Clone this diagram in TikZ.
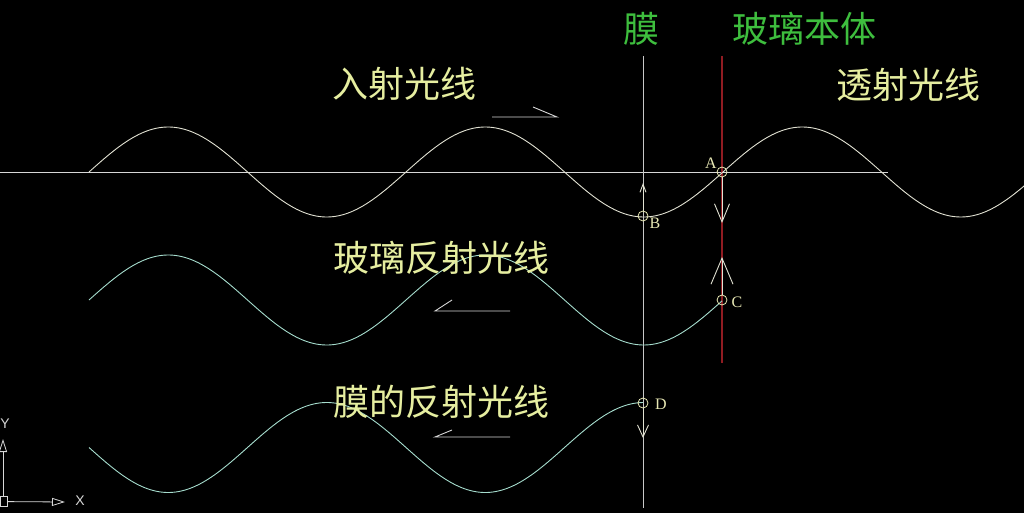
\documentclass[tikz,border=0pt]{standalone}
\usepackage{fontspec}
\setmainfont{Liberation Serif}
\setsansfont{Liberation Sans}
\newfontfamily\cjk{Noto Sans CJK SC}
\usetikzlibrary{arrows.meta}
\definecolor{bg}{RGB}{0,0,0}
\definecolor{wavew}{RGB}{225,225,210}
\definecolor{wavec}{RGB}{165,220,205}
\definecolor{axisg}{RGB}{215,215,215}
\definecolor{filmg}{RGB}{200,200,200}
\definecolor{glassred}{RGB}{145,28,34}
\definecolor{txty}{RGB}{230,238,160}
\definecolor{txtg}{RGB}{62,190,62}
\definecolor{ptcol}{RGB}{232,232,180}
\begin{document}
\begin{tikzpicture}[x=1pt,y=-1pt,line width=0.9pt,
  cjklabel/.style={text=txty,font=\cjk\fontsize{36}{40}\selectfont,inner sep=0pt},
  greenlabel/.style={text=txtg,font=\cjk\fontsize{36}{40}\selectfont,inner sep=0pt},
  ptmark/.style={circle,draw=ptcol,line width=0.8pt,minimum size=10pt,inner sep=0pt},
  ptname/.style={text=ptcol,font=\fontsize{16}{17}\selectfont,inner sep=0pt},
  harpoon/.style={draw=axisg,line width=0.9pt},
  vecarrow/.style={draw=wavew,line width=0.9pt}]
\fill[bg] (0,0) rectangle (1024,513);
\useasboundingbox (0,0) rectangle (1024,513);

% horizontal axis line
\coordinate (axL) at (0,172);
\coordinate (axR) at (888,172);
\draw[axisg] (axL) -- (axR);

% film line and glass line
\coordinate (filmT) at (643,56);
\coordinate (filmB) at (643,508);
\coordinate (glassT) at (722,56);
\coordinate (glassB) at (722,363);
\draw[glassred,line width=1.2pt] (glassT) -- (glassB);
\draw[filmg] (filmT) -- (filmB);

% waves
\draw[wavew] plot[domain=89:1030,samples=300,smooth] (\x,{172-45*sin((\x-89)/317*360)});
\draw[wavec] plot[domain=89:722,samples=220,smooth] (\x,{300-45*sin((\x-89)/317*360)});
\draw[wavec] plot[domain=89:643,samples=200,smooth] (\x,{447.5+45*sin((\x-89)/317*360)});

% points
\node[ptmark] (A) at (722,172) {};
\node[ptmark] (B) at (643,216) {};
\node[ptmark] (C) at (722,300) {};
\node[ptmark] (D) at (643,403) {};
\node[ptname] (An) at (711,163) {A};
\node[ptname] (Bn) at (655,223) {B};
\node[ptname] (Cn) at (737,302) {C};
\node[ptname] (Dn) at (661,404) {D};

% vertical arrows
\coordinate (Atip) at (722,223);
\coordinate (Btip) at (643,183);
\coordinate (Ctip) at (722,257);
\coordinate (Dtip) at (643,438);
\draw[vecarrow,-{Straight Barb[length=18pt,width=15pt,line width=0.9pt]}] (A) -- (Atip);
\draw[vecarrow,-{Straight Barb[length=8pt,width=6pt,line width=0.9pt]}] (B) -- (Btip);
\draw[vecarrow,-{Straight Barb[length=26pt,width=22pt,line width=0.9pt]}] (C) -- (Ctip);
\draw[vecarrow,-{Straight Barb[length=12pt,width=11pt,line width=0.9pt]}] (D) -- (Dtip);

% harpoon arrows
\coordinate (h1a) at (492,117);
\coordinate (h1b) at (557,117);
\coordinate (h1c) at (533,107);
\draw[harpoon] (h1a) -- (h1b) -- (h1c);
\coordinate (h2a) at (510,311);
\coordinate (h2b) at (435,311);
\coordinate (h2c) at (452,300);
\draw[harpoon] (h2a) -- (h2b) -- (h2c);
\coordinate (h3a) at (510,437);
\coordinate (h3b) at (435,437);
\coordinate (h3c) at (452,430);
\draw[harpoon] (h3a) -- (h3b) -- (h3c);

% labels
\node[cjklabel] (inc) at (404,84) {入射光线};
\node[cjklabel] (tra) at (908,85) {透射光线};
\node[cjklabel] (grf) at (441,258) {玻璃反射光线};
\node[cjklabel] (frf) at (441,402) {膜的反射光线};
\node[greenlabel] (mo) at (641,29) {膜};
\node[greenlabel] (gb) at (804,29) {玻璃本体};

% UCS icon
\node[draw=axisg,line width=0.8pt,minimum width=7pt,minimum height=10pt,inner sep=0pt,anchor=south west] (ucs) at (0,507) {};
\coordinate (ybase) at (3,497);
\coordinate (ytip) at (3,439);
\coordinate (xtip) at (65,502);
\draw[axisg,line width=0.8pt,-{Triangle[open,length=13pt,width=8pt]}] (ybase) -- (ytip);
\draw[axisg,line width=0.8pt,-{Triangle[open,length=13pt,width=8pt]}] (ucs.east) -- (xtip);
\node[text=axisg,font=\sffamily\fontsize{14}{14}\selectfont,inner sep=0pt] (ylab) at (5,424) {Y};
\node[text=axisg,font=\sffamily\fontsize{14}{14}\selectfont,inner sep=0pt] (xlab) at (80,501) {X};
\end{tikzpicture}
\end{document}
